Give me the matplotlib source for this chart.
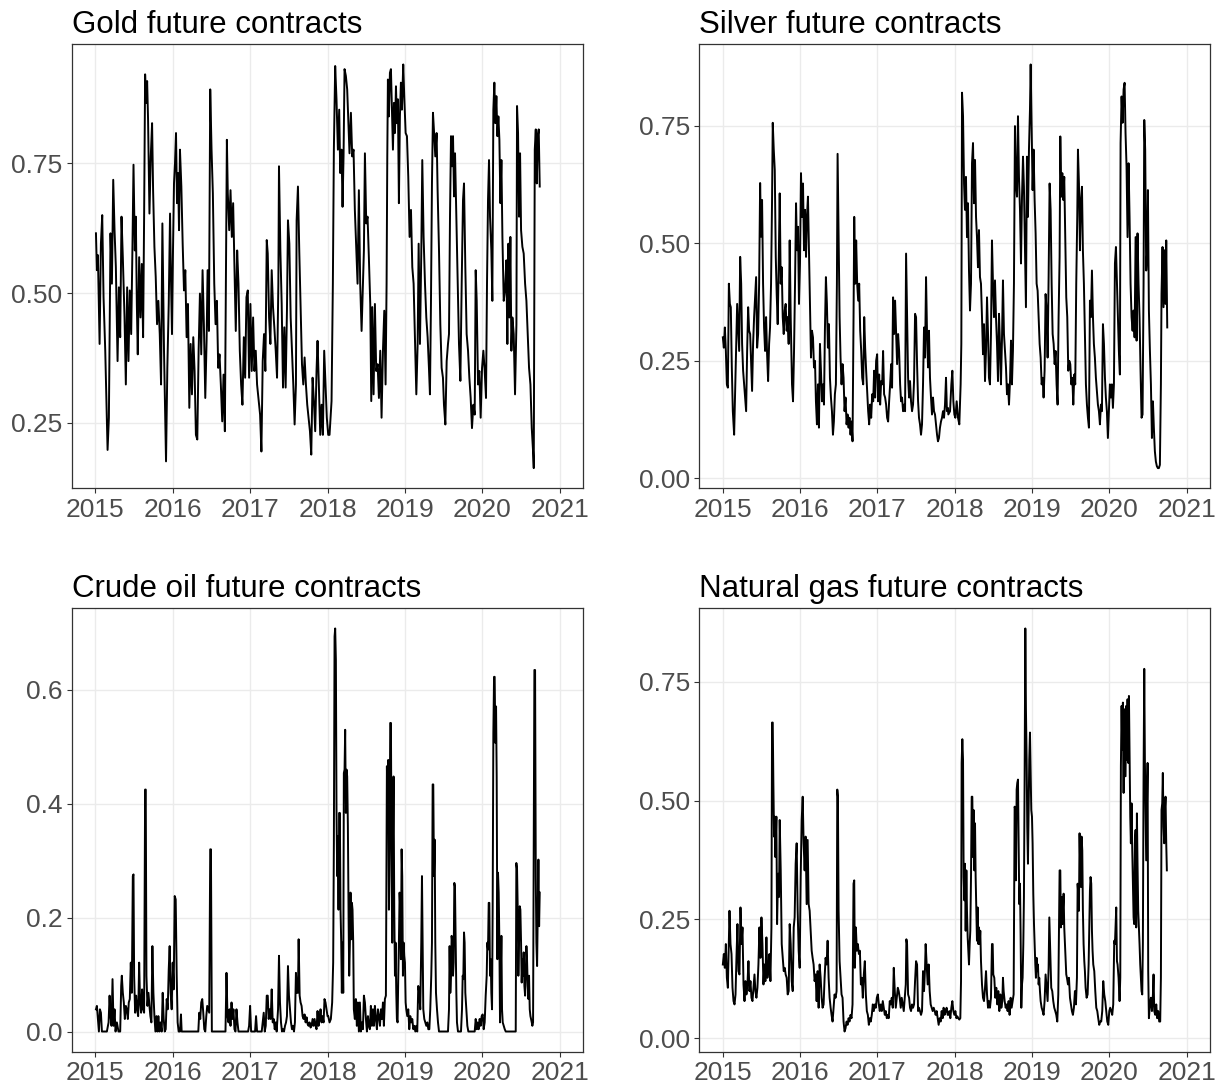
import matplotlib
matplotlib.use("Agg")
import matplotlib.pyplot as plt
from matplotlib.ticker import FormatStrFormatter

plt.rcParams['font.family'] = ['Liberation Sans', 'DejaVu Sans']

# (decimal year, value) observations for each contract
gold = [
    (2015.009, 0.615), (2015.021, 0.544), (2015.034, 0.573), (2015.056, 0.402), (2015.073, 0.595), (2015.090, 0.650), (2015.107, 0.492), (2015.129, 0.389), (2015.159, 0.198), (2015.176, 0.260),
    (2015.189, 0.492), (2015.197, 0.615), (2015.215, 0.518), (2015.232, 0.718), (2015.249, 0.621), (2015.266, 0.550), (2015.288, 0.369), (2015.305, 0.511), (2015.322, 0.415), (2015.339, 0.647),
    (2015.356, 0.569), (2015.378, 0.453), (2015.395, 0.324), (2015.412, 0.511), (2015.429, 0.369), (2015.446, 0.505), (2015.464, 0.421), (2015.481, 0.595), (2015.494, 0.747), (2015.511, 0.582),
    (2015.524, 0.647), (2015.537, 0.479), (2015.549, 0.382), (2015.567, 0.569), (2015.584, 0.453), (2015.601, 0.556), (2015.618, 0.415), (2015.631, 0.647), (2015.644, 0.921), (2015.657, 0.866),
    (2015.670, 0.908), (2015.682, 0.834), (2015.700, 0.653), (2015.717, 0.763), (2015.734, 0.827), (2015.747, 0.698), (2015.764, 0.589), (2015.781, 0.531), (2015.798, 0.440), (2015.815, 0.485),
    (2015.833, 0.421), (2015.850, 0.324), (2015.867, 0.634), (2015.888, 0.389), (2015.914, 0.176), (2015.931, 0.356), (2015.949, 0.479), (2015.966, 0.653), (2015.979, 0.518), (2015.991, 0.421),
    (2016.004, 0.582), (2016.017, 0.711), (2016.030, 0.750), (2016.043, 0.808), (2016.056, 0.673), (2016.069, 0.731), (2016.082, 0.621), (2016.094, 0.776), (2016.112, 0.705), (2016.129, 0.595),
    (2016.146, 0.505), (2016.163, 0.544), (2016.180, 0.415), (2016.197, 0.479), (2016.215, 0.279), (2016.232, 0.402), (2016.249, 0.305), (2016.266, 0.415), (2016.283, 0.350), (2016.300, 0.227),
    (2016.318, 0.218), (2016.335, 0.389), (2016.352, 0.499), (2016.369, 0.382), (2016.386, 0.544), (2016.403, 0.440), (2016.421, 0.298), (2016.438, 0.408), (2016.451, 0.544), (2016.468, 0.427),
    (2016.485, 0.892), (2016.502, 0.776), (2016.519, 0.692), (2016.537, 0.518), (2016.554, 0.440), (2016.571, 0.485), (2016.588, 0.356), (2016.605, 0.382), (2016.622, 0.324), (2016.640, 0.253),
    (2016.657, 0.343), (2016.674, 0.234), (2016.691, 0.595), (2016.700, 0.795), (2016.712, 0.692), (2016.730, 0.621), (2016.747, 0.698), (2016.764, 0.608), (2016.781, 0.673), (2016.798, 0.550),
    (2016.815, 0.427), (2016.833, 0.582), (2016.850, 0.518), (2016.867, 0.389), (2016.884, 0.324), (2016.901, 0.285), (2016.919, 0.415), (2016.936, 0.337), (2016.953, 0.492), (2016.970, 0.505),
    (2016.987, 0.337), (2017.004, 0.479), (2017.021, 0.350), (2017.039, 0.453), (2017.056, 0.350), (2017.073, 0.389), (2017.090, 0.324), (2017.112, 0.292), (2017.129, 0.266), (2017.146, 0.195),
    (2017.163, 0.369), (2017.180, 0.421), (2017.197, 0.350), (2017.215, 0.602), (2017.228, 0.576), (2017.245, 0.453), (2017.262, 0.402), (2017.279, 0.544), (2017.296, 0.473), (2017.313, 0.434),
    (2017.331, 0.389), (2017.348, 0.337), (2017.365, 0.518), (2017.373, 0.744), (2017.391, 0.582), (2017.408, 0.479), (2017.425, 0.318), (2017.442, 0.434), (2017.459, 0.318), (2017.476, 0.466),
    (2017.489, 0.640), (2017.507, 0.595), (2017.524, 0.453), (2017.541, 0.389), (2017.558, 0.324), (2017.575, 0.247), (2017.592, 0.324), (2017.601, 0.640), (2017.618, 0.705), (2017.635, 0.582),
    (2017.652, 0.479), (2017.670, 0.363), (2017.687, 0.324), (2017.704, 0.376), (2017.721, 0.324), (2017.738, 0.285), (2017.755, 0.260), (2017.773, 0.234), (2017.790, 0.189), (2017.807, 0.337),
    (2017.824, 0.292), (2017.841, 0.234), (2017.858, 0.350), (2017.871, 0.408), (2017.888, 0.324), (2017.906, 0.227), (2017.923, 0.285), (2017.940, 0.227), (2017.957, 0.389), (2017.974, 0.324),
    (2017.991, 0.260), (2018.009, 0.227), (2018.026, 0.227), (2018.052, 0.292), (2018.069, 0.518), (2018.082, 0.776), (2018.099, 0.937), (2018.116, 0.873), (2018.134, 0.776), (2018.151, 0.853),
    (2018.164, 0.731), (2018.181, 0.776), (2018.194, 0.666), (2018.207, 0.763), (2018.220, 0.931), (2018.237, 0.918), (2018.254, 0.892), (2018.267, 0.840), (2018.284, 0.769), (2018.302, 0.847),
    (2018.319, 0.763), (2018.336, 0.776), (2018.353, 0.660), (2018.371, 0.589), (2018.388, 0.518), (2018.405, 0.698), (2018.422, 0.518), (2018.440, 0.427), (2018.457, 0.518), (2018.470, 0.582),
    (2018.483, 0.769), (2018.500, 0.634), (2018.517, 0.647), (2018.534, 0.569), (2018.552, 0.479), (2018.565, 0.292), (2018.578, 0.473), (2018.595, 0.305), (2018.612, 0.479), (2018.629, 0.350),
    (2018.647, 0.363), (2018.664, 0.298), (2018.681, 0.389), (2018.698, 0.260), (2018.716, 0.389), (2018.733, 0.466), (2018.750, 0.324), (2018.763, 0.518), (2018.772, 0.763), (2018.780, 0.911),
    (2018.793, 0.840), (2018.806, 0.924), (2018.819, 0.931), (2018.832, 0.853), (2018.845, 0.776), (2018.858, 0.866), (2018.871, 0.808), (2018.884, 0.898), (2018.897, 0.827), (2018.909, 0.873),
    (2018.922, 0.673), (2018.935, 0.840), (2018.948, 0.905), (2018.961, 0.853), (2018.978, 0.940), (2018.991, 0.879), (2019.009, 0.808), (2019.026, 0.802), (2019.043, 0.724), (2019.060, 0.608),
    (2019.078, 0.660), (2019.095, 0.550), (2019.112, 0.518), (2019.129, 0.415), (2019.147, 0.305), (2019.164, 0.402), (2019.177, 0.595), (2019.194, 0.402), (2019.211, 0.576), (2019.224, 0.756),
    (2019.241, 0.608), (2019.259, 0.518), (2019.276, 0.453), (2019.293, 0.415), (2019.310, 0.356), (2019.323, 0.305), (2019.336, 0.479), (2019.349, 0.711), (2019.362, 0.847), (2019.379, 0.802),
    (2019.392, 0.763), (2019.409, 0.808), (2019.422, 0.698), (2019.440, 0.582), (2019.457, 0.440), (2019.474, 0.356), (2019.491, 0.337), (2019.504, 0.285), (2019.522, 0.247), (2019.539, 0.369),
    (2019.556, 0.402), (2019.569, 0.421), (2019.582, 0.647), (2019.595, 0.802), (2019.608, 0.744), (2019.621, 0.802), (2019.634, 0.686), (2019.647, 0.769), (2019.664, 0.647), (2019.681, 0.518),
    (2019.698, 0.402), (2019.716, 0.331), (2019.733, 0.518), (2019.750, 0.679), (2019.763, 0.711), (2019.780, 0.550), (2019.797, 0.421), (2019.815, 0.389), (2019.832, 0.337), (2019.849, 0.298),
    (2019.866, 0.240), (2019.884, 0.285), (2019.901, 0.266), (2019.914, 0.544), (2019.927, 0.485), (2019.944, 0.324), (2019.961, 0.350), (2019.978, 0.260), (2019.996, 0.356), (2020.013, 0.389),
    (2020.030, 0.350), (2020.047, 0.298), (2020.060, 0.518), (2020.073, 0.679), (2020.086, 0.756), (2020.099, 0.647), (2020.116, 0.582), (2020.129, 0.485), (2020.142, 0.853), (2020.155, 0.905),
    (2020.168, 0.827), (2020.181, 0.879), (2020.194, 0.802), (2020.207, 0.840), (2020.220, 0.795), (2020.233, 0.673), (2020.246, 0.756), (2020.259, 0.608), (2020.276, 0.485), (2020.293, 0.505),
    (2020.310, 0.563), (2020.323, 0.402), (2020.336, 0.595), (2020.349, 0.453), (2020.362, 0.608), (2020.375, 0.389), (2020.388, 0.453), (2020.405, 0.421), (2020.422, 0.305), (2020.440, 0.440),
    (2020.448, 0.860), (2020.461, 0.808), (2020.474, 0.647), (2020.487, 0.769), (2020.500, 0.621), (2020.517, 0.589), (2020.534, 0.576), (2020.552, 0.518), (2020.569, 0.485), (2020.586, 0.421),
    (2020.603, 0.356), (2020.621, 0.324), (2020.638, 0.240), (2020.655, 0.195), (2020.664, 0.163), (2020.677, 0.776), (2020.690, 0.815), (2020.703, 0.711), (2020.716, 0.802), (2020.728, 0.815),
    (2020.741, 0.705),
]

silver = [
    (2015.004, 0.300), (2015.017, 0.278), (2015.030, 0.321), (2015.043, 0.271), (2015.056, 0.200), (2015.069, 0.193), (2015.082, 0.414), (2015.095, 0.371), (2015.107, 0.364), (2015.120, 0.236),
    (2015.133, 0.143), (2015.150, 0.093), (2015.163, 0.186), (2015.176, 0.271), (2015.189, 0.371), (2015.202, 0.321), (2015.215, 0.271), (2015.228, 0.471), (2015.241, 0.414), (2015.253, 0.286),
    (2015.266, 0.229), (2015.279, 0.200), (2015.292, 0.172), (2015.305, 0.143), (2015.318, 0.271), (2015.331, 0.364), (2015.344, 0.314), (2015.357, 0.307), (2015.370, 0.243), (2015.382, 0.186),
    (2015.395, 0.286), (2015.408, 0.343), (2015.421, 0.385), (2015.434, 0.428), (2015.447, 0.278), (2015.460, 0.307), (2015.473, 0.414), (2015.486, 0.628), (2015.498, 0.514), (2015.511, 0.592),
    (2015.524, 0.414), (2015.537, 0.321), (2015.550, 0.271), (2015.563, 0.343), (2015.576, 0.264), (2015.589, 0.207), (2015.602, 0.286), (2015.614, 0.321), (2015.627, 0.414), (2015.640, 0.592),
    (2015.649, 0.756), (2015.662, 0.699), (2015.675, 0.656), (2015.688, 0.471), (2015.700, 0.392), (2015.713, 0.328), (2015.726, 0.457), (2015.739, 0.606), (2015.752, 0.414), (2015.765, 0.449),
    (2015.778, 0.343), (2015.791, 0.307), (2015.804, 0.357), (2015.816, 0.371), (2015.829, 0.314), (2015.842, 0.343), (2015.855, 0.286), (2015.868, 0.506), (2015.881, 0.343), (2015.898, 0.200),
    (2015.911, 0.164), (2015.924, 0.271), (2015.937, 0.414), (2015.950, 0.585), (2015.963, 0.485), (2015.975, 0.535), (2015.988, 0.371), (2016.001, 0.457), (2016.014, 0.649), (2016.027, 0.556),
    (2016.040, 0.627), (2016.053, 0.485), (2016.066, 0.571), (2016.079, 0.471), (2016.091, 0.556), (2016.104, 0.599), (2016.117, 0.485), (2016.130, 0.371), (2016.143, 0.257), (2016.156, 0.314),
    (2016.169, 0.300), (2016.182, 0.236), (2016.195, 0.250), (2016.207, 0.164), (2016.220, 0.115), (2016.233, 0.200), (2016.246, 0.108), (2016.259, 0.286), (2016.272, 0.229), (2016.285, 0.164),
    (2016.298, 0.200), (2016.311, 0.157), (2016.323, 0.314), (2016.336, 0.428), (2016.349, 0.371), (2016.362, 0.278), (2016.375, 0.328), (2016.388, 0.214), (2016.401, 0.172), (2016.414, 0.143),
    (2016.427, 0.093), (2016.439, 0.121), (2016.452, 0.179), (2016.465, 0.200), (2016.478, 0.414), (2016.487, 0.690), (2016.500, 0.514), (2016.513, 0.343), (2016.525, 0.257), (2016.538, 0.200),
    (2016.551, 0.243), (2016.564, 0.214), (2016.577, 0.143), (2016.590, 0.172), (2016.603, 0.115), (2016.616, 0.136), (2016.629, 0.108), (2016.641, 0.129), (2016.654, 0.093), (2016.667, 0.121),
    (2016.680, 0.079), (2016.693, 0.343), (2016.702, 0.556), (2016.715, 0.414), (2016.727, 0.506), (2016.740, 0.414), (2016.753, 0.378), (2016.766, 0.414), (2016.779, 0.314), (2016.792, 0.271),
    (2016.805, 0.214), (2016.818, 0.200), (2016.831, 0.343), (2016.843, 0.278), (2016.856, 0.229), (2016.869, 0.186), (2016.882, 0.143), (2016.895, 0.115), (2016.908, 0.157), (2016.921, 0.129),
    (2016.934, 0.179), (2016.947, 0.164), (2016.959, 0.229), (2016.972, 0.172), (2016.985, 0.250), (2016.998, 0.264), (2017.011, 0.164), (2017.024, 0.221), (2017.037, 0.157), (2017.050, 0.207),
    (2017.063, 0.200), (2017.075, 0.271), (2017.088, 0.179), (2017.101, 0.172), (2017.114, 0.157), (2017.127, 0.129), (2017.140, 0.121), (2017.153, 0.164), (2017.166, 0.200), (2017.179, 0.243),
    (2017.191, 0.193), (2017.204, 0.385), (2017.217, 0.307), (2017.230, 0.378), (2017.243, 0.314), (2017.256, 0.243), (2017.269, 0.307), (2017.282, 0.271), (2017.295, 0.200), (2017.307, 0.164),
    (2017.320, 0.172), (2017.333, 0.143), (2017.346, 0.157), (2017.359, 0.143), (2017.372, 0.478), (2017.385, 0.343), (2017.398, 0.214), (2017.411, 0.172), (2017.423, 0.207), (2017.436, 0.164),
    (2017.449, 0.143), (2017.462, 0.157), (2017.475, 0.207), (2017.488, 0.350), (2017.501, 0.343), (2017.514, 0.243), (2017.527, 0.164), (2017.539, 0.129), (2017.552, 0.115), (2017.565, 0.093),
    (2017.578, 0.115), (2017.591, 0.200), (2017.604, 0.321), (2017.617, 0.257), (2017.630, 0.428), (2017.643, 0.307), (2017.656, 0.236), (2017.668, 0.314), (2017.681, 0.214), (2017.694, 0.172),
    (2017.707, 0.136), (2017.720, 0.172), (2017.733, 0.143), (2017.746, 0.136), (2017.759, 0.115), (2017.772, 0.093), (2017.784, 0.079), (2017.797, 0.086), (2017.810, 0.108), (2017.823, 0.121),
    (2017.836, 0.129), (2017.849, 0.143), (2017.862, 0.129), (2017.875, 0.157), (2017.888, 0.214), (2017.900, 0.143), (2017.913, 0.150), (2017.918, 0.136), (2017.940, 0.143), (2017.957, 0.200),
    (2017.970, 0.229), (2017.983, 0.164), (2017.996, 0.136), (2018.009, 0.129), (2018.026, 0.164), (2018.043, 0.129), (2018.060, 0.115), (2018.077, 0.200), (2018.086, 0.286), (2018.095, 0.820),
    (2018.108, 0.770), (2018.121, 0.627), (2018.133, 0.571), (2018.146, 0.641), (2018.159, 0.513), (2018.172, 0.585), (2018.185, 0.442), (2018.198, 0.357), (2018.211, 0.414), (2018.224, 0.670),
    (2018.237, 0.713), (2018.250, 0.585), (2018.263, 0.677), (2018.276, 0.556), (2018.288, 0.513), (2018.301, 0.449), (2018.314, 0.528), (2018.327, 0.428), (2018.340, 0.414), (2018.353, 0.343),
    (2018.366, 0.264), (2018.379, 0.328), (2018.392, 0.207), (2018.405, 0.271), (2018.418, 0.385), (2018.431, 0.307), (2018.443, 0.214), (2018.456, 0.200), (2018.469, 0.307), (2018.482, 0.506),
    (2018.495, 0.414), (2018.508, 0.343), (2018.521, 0.421), (2018.534, 0.343), (2018.547, 0.286), (2018.560, 0.207), (2018.573, 0.350), (2018.585, 0.286), (2018.598, 0.200), (2018.611, 0.293),
    (2018.624, 0.421), (2018.637, 0.307), (2018.650, 0.271), (2018.663, 0.236), (2018.676, 0.179), (2018.689, 0.200), (2018.702, 0.157), (2018.715, 0.207), (2018.728, 0.293), (2018.740, 0.200),
    (2018.753, 0.271), (2018.766, 0.414), (2018.779, 0.749), (2018.792, 0.627), (2018.805, 0.599), (2018.818, 0.770), (2018.831, 0.641), (2018.844, 0.571), (2018.857, 0.457), (2018.870, 0.599),
    (2018.883, 0.684), (2018.895, 0.620), (2018.908, 0.485), (2018.921, 0.364), (2018.934, 0.684), (2018.947, 0.556), (2018.960, 0.699), (2018.973, 0.784), (2018.982, 0.880), (2018.994, 0.749),
    (2019.007, 0.613), (2019.020, 0.699), (2019.033, 0.592), (2019.046, 0.521), (2019.059, 0.414), (2019.072, 0.399), (2019.085, 0.343), (2019.098, 0.286), (2019.111, 0.257), (2019.124, 0.200),
    (2019.137, 0.214), (2019.149, 0.172), (2019.162, 0.229), (2019.175, 0.392), (2019.188, 0.357), (2019.201, 0.257), (2019.214, 0.428), (2019.227, 0.627), (2019.240, 0.571), (2019.253, 0.414),
    (2019.266, 0.307), (2019.279, 0.286), (2019.292, 0.243), (2019.304, 0.271), (2019.317, 0.200), (2019.330, 0.157), (2019.343, 0.343), (2019.356, 0.471), (2019.365, 0.727), (2019.378, 0.599),
    (2019.391, 0.649), (2019.403, 0.592), (2019.416, 0.641), (2019.429, 0.514), (2019.442, 0.385), (2019.455, 0.343), (2019.468, 0.229), (2019.481, 0.250), (2019.494, 0.243), (2019.507, 0.200),
    (2019.520, 0.214), (2019.533, 0.157), (2019.546, 0.221), (2019.558, 0.200), (2019.571, 0.414), (2019.584, 0.556), (2019.593, 0.699), (2019.606, 0.627), (2019.619, 0.485), (2019.632, 0.592),
    (2019.645, 0.620), (2019.657, 0.485), (2019.670, 0.414), (2019.683, 0.307), (2019.696, 0.200), (2019.709, 0.157), (2019.722, 0.129), (2019.735, 0.108), (2019.748, 0.378), (2019.761, 0.343),
    (2019.774, 0.442), (2019.787, 0.343), (2019.799, 0.286), (2019.812, 0.257), (2019.825, 0.214), (2019.838, 0.186), (2019.851, 0.157), (2019.864, 0.143), (2019.877, 0.115), (2019.890, 0.157),
    (2019.903, 0.143), (2019.916, 0.328), (2019.929, 0.286), (2019.942, 0.214), (2019.954, 0.172), (2019.967, 0.143), (2019.980, 0.086), (2019.993, 0.143), (2020.006, 0.200), (2020.019, 0.172),
    (2020.032, 0.200), (2020.045, 0.150), (2020.058, 0.200), (2020.071, 0.457), (2020.084, 0.492), (2020.097, 0.414), (2020.109, 0.343), (2020.122, 0.271), (2020.135, 0.221), (2020.144, 0.713),
    (2020.157, 0.812), (2020.170, 0.756), (2020.183, 0.827), (2020.196, 0.841), (2020.208, 0.734), (2020.221, 0.663), (2020.234, 0.513), (2020.247, 0.670), (2020.260, 0.556), (2020.273, 0.414),
    (2020.286, 0.343), (2020.299, 0.314), (2020.312, 0.357), (2020.325, 0.300), (2020.338, 0.513), (2020.351, 0.293), (2020.363, 0.521), (2020.376, 0.414), (2020.389, 0.343), (2020.402, 0.229),
    (2020.415, 0.129), (2020.428, 0.136), (2020.441, 0.414), (2020.450, 0.762), (2020.462, 0.699), (2020.475, 0.442), (2020.488, 0.485), (2020.497, 0.613), (2020.510, 0.357), (2020.523, 0.271),
    (2020.536, 0.200), (2020.549, 0.086), (2020.562, 0.164), (2020.574, 0.108), (2020.587, 0.058), (2020.600, 0.036), (2020.613, 0.026), (2020.626, 0.022), (2020.639, 0.022), (2020.652, 0.029),
    (2020.665, 0.200), (2020.673, 0.392), (2020.686, 0.492), (2020.699, 0.364), (2020.712, 0.485), (2020.725, 0.371), (2020.734, 0.506), (2020.747, 0.321),
]

crude = [
    (2015.009, 0.039), (2015.021, 0.045), (2015.034, 0.022), (2015.047, 0.000), (2015.060, 0.039), (2015.073, 0.033), (2015.086, 0.000), (2015.107, 0.000), (2015.129, 0.000), (2015.150, 0.000),
    (2015.172, 0.016), (2015.185, 0.063), (2015.197, 0.027), (2015.210, 0.010), (2015.223, 0.092), (2015.236, 0.010), (2015.249, 0.039), (2015.262, 0.000), (2015.279, 0.016), (2015.300, 0.000),
    (2015.322, 0.000), (2015.335, 0.080), (2015.343, 0.098), (2015.356, 0.068), (2015.369, 0.051), (2015.382, 0.022), (2015.395, 0.045), (2015.408, 0.039), (2015.421, 0.022), (2015.433, 0.051),
    (2015.446, 0.057), (2015.459, 0.121), (2015.472, 0.068), (2015.485, 0.273), (2015.494, 0.276), (2015.502, 0.098), (2015.515, 0.033), (2015.528, 0.063), (2015.541, 0.039), (2015.554, 0.027),
    (2015.567, 0.121), (2015.579, 0.051), (2015.592, 0.033), (2015.605, 0.074), (2015.618, 0.039), (2015.631, 0.033), (2015.644, 0.425), (2015.652, 0.425), (2015.661, 0.098), (2015.674, 0.045),
    (2015.687, 0.068), (2015.700, 0.045), (2015.712, 0.027), (2015.725, 0.016), (2015.738, 0.150), (2015.751, 0.068), (2015.764, 0.027), (2015.777, 0.000), (2015.790, 0.027), (2015.803, 0.000),
    (2015.815, 0.027), (2015.828, 0.000), (2015.841, 0.016), (2015.858, 0.000), (2015.871, 0.068), (2015.884, 0.022), (2015.897, 0.000), (2015.910, 0.004), (2015.923, 0.057), (2015.936, 0.039),
    (2015.949, 0.109), (2015.961, 0.150), (2015.974, 0.068), (2015.987, 0.039), (2016.000, 0.121), (2016.013, 0.074), (2016.026, 0.238), (2016.039, 0.232), (2016.052, 0.098), (2016.064, 0.016),
    (2016.077, 0.000), (2016.094, 0.000), (2016.107, 0.030), (2016.116, 0.000), (2016.180, 0.000), (2016.266, 0.000), (2016.331, 0.000), (2016.343, 0.033), (2016.356, 0.022), (2016.369, 0.051),
    (2016.382, 0.057), (2016.395, 0.033), (2016.408, 0.004), (2016.421, 0.000), (2016.434, 0.027), (2016.446, 0.045), (2016.459, 0.039), (2016.472, 0.033), (2016.485, 0.320), (2016.494, 0.320),
    (2016.506, 0.000), (2016.524, 0.000), (2016.610, 0.000), (2016.682, 0.000), (2016.695, 0.103), (2016.708, 0.027), (2016.721, 0.016), (2016.734, 0.039), (2016.747, 0.010), (2016.760, 0.051),
    (2016.773, 0.022), (2016.785, 0.039), (2016.798, 0.004), (2016.811, 0.000), (2016.824, 0.039), (2016.837, 0.016), (2016.850, 0.000), (2016.867, 0.000), (2016.910, 0.000), (2016.974, 0.000),
    (2016.987, 0.010), (2017.000, 0.045), (2017.013, 0.000), (2017.039, 0.000), (2017.064, 0.000), (2017.077, 0.027), (2017.090, 0.000), (2017.125, 0.000), (2017.150, 0.000), (2017.163, 0.016),
    (2017.176, 0.033), (2017.189, 0.000), (2017.202, 0.010), (2017.215, 0.063), (2017.228, 0.063), (2017.240, 0.022), (2017.253, 0.039), (2017.266, 0.022), (2017.279, 0.074), (2017.292, 0.016),
    (2017.305, 0.022), (2017.318, 0.004), (2017.331, 0.016), (2017.343, 0.000), (2017.361, 0.039), (2017.373, 0.133), (2017.386, 0.051), (2017.399, 0.016), (2017.412, 0.000), (2017.425, 0.004),
    (2017.438, 0.000), (2017.451, 0.010), (2017.464, 0.016), (2017.476, 0.027), (2017.489, 0.115), (2017.502, 0.063), (2017.515, 0.039), (2017.528, 0.016), (2017.541, 0.004), (2017.554, 0.010),
    (2017.567, 0.000), (2017.579, 0.016), (2017.592, 0.103), (2017.605, 0.068), (2017.618, 0.068), (2017.627, 0.162), (2017.640, 0.063), (2017.652, 0.051), (2017.665, 0.045), (2017.678, 0.027),
    (2017.691, 0.022), (2017.704, 0.030), (2017.717, 0.016), (2017.730, 0.025), (2017.743, 0.013), (2017.755, 0.010), (2017.768, 0.016), (2017.781, 0.007), (2017.794, 0.010), (2017.807, 0.022),
    (2017.820, 0.010), (2017.833, 0.022), (2017.846, 0.010), (2017.858, 0.004), (2017.871, 0.036), (2017.884, 0.010), (2017.897, 0.022), (2017.910, 0.039), (2017.923, 0.016), (2017.936, 0.027),
    (2017.949, 0.016), (2017.961, 0.057), (2017.974, 0.051), (2017.987, 0.039), (2018.000, 0.027), (2018.009, 0.027), (2018.026, 0.016), (2018.043, 0.022), (2018.060, 0.051), (2018.073, 0.121),
    (2018.082, 0.331), (2018.091, 0.694), (2018.099, 0.708), (2018.108, 0.653), (2018.116, 0.390), (2018.125, 0.273), (2018.134, 0.343), (2018.142, 0.214), (2018.151, 0.384), (2018.159, 0.384),
    (2018.168, 0.214), (2018.177, 0.156), (2018.185, 0.068), (2018.194, 0.156), (2018.203, 0.068), (2018.211, 0.454), (2018.220, 0.460), (2018.228, 0.530), (2018.237, 0.384), (2018.246, 0.460),
    (2018.254, 0.448), (2018.263, 0.361), (2018.272, 0.203), (2018.280, 0.098), (2018.289, 0.156), (2018.297, 0.244), (2018.306, 0.162), (2018.315, 0.226), (2018.323, 0.214), (2018.332, 0.156),
    (2018.340, 0.039), (2018.353, 0.022), (2018.366, 0.057), (2018.379, 0.010), (2018.392, 0.051), (2018.405, 0.000), (2018.418, 0.051), (2018.431, 0.000), (2018.444, 0.016), (2018.457, 0.004),
    (2018.470, 0.063), (2018.483, 0.051), (2018.496, 0.022), (2018.509, 0.000), (2018.522, 0.027), (2018.534, 0.010), (2018.547, 0.004), (2018.560, 0.045), (2018.573, 0.010), (2018.586, 0.039),
    (2018.599, 0.010), (2018.612, 0.045), (2018.625, 0.022), (2018.638, 0.004), (2018.651, 0.039), (2018.664, 0.027), (2018.677, 0.010), (2018.690, 0.039), (2018.703, 0.022), (2018.716, 0.051),
    (2018.728, 0.010), (2018.741, 0.057), (2018.754, 0.063), (2018.767, 0.466), (2018.776, 0.378), (2018.784, 0.477), (2018.793, 0.214), (2018.802, 0.331), (2018.810, 0.542), (2018.819, 0.542),
    (2018.828, 0.273), (2018.836, 0.156), (2018.845, 0.331), (2018.853, 0.448), (2018.862, 0.214), (2018.871, 0.098), (2018.879, 0.156), (2018.888, 0.068), (2018.896, 0.022), (2018.905, 0.016),
    (2018.914, 0.098), (2018.922, 0.156), (2018.931, 0.244), (2018.940, 0.214), (2018.948, 0.127), (2018.957, 0.320), (2018.965, 0.273), (2018.974, 0.098), (2018.983, 0.156), (2018.991, 0.133),
    (2019.000, 0.121), (2019.009, 0.051), (2019.017, 0.039), (2019.030, 0.027), (2019.043, 0.039), (2019.056, 0.004), (2019.069, 0.027), (2019.082, 0.016), (2019.095, 0.022), (2019.108, 0.004),
    (2019.121, 0.010), (2019.134, 0.000), (2019.147, 0.010), (2019.159, 0.000), (2019.172, 0.080), (2019.185, 0.068), (2019.198, 0.039), (2019.211, 0.156), (2019.220, 0.273), (2019.228, 0.156),
    (2019.237, 0.039), (2019.250, 0.022), (2019.263, 0.016), (2019.276, 0.010), (2019.289, 0.016), (2019.302, 0.004), (2019.315, 0.004), (2019.327, 0.039), (2019.340, 0.098), (2019.349, 0.156),
    (2019.358, 0.434), (2019.366, 0.434), (2019.375, 0.273), (2019.384, 0.337), (2019.392, 0.156), (2019.401, 0.068), (2019.414, 0.039), (2019.427, 0.016), (2019.440, 0.000), (2019.457, 0.000),
    (2019.491, 0.000), (2019.534, 0.000), (2019.556, 0.000), (2019.569, 0.039), (2019.577, 0.150), (2019.586, 0.068), (2019.595, 0.098), (2019.603, 0.168), (2019.612, 0.156), (2019.621, 0.098),
    (2019.629, 0.121), (2019.638, 0.261), (2019.646, 0.255), (2019.655, 0.156), (2019.664, 0.068), (2019.672, 0.016), (2019.685, 0.000), (2019.698, 0.000), (2019.711, 0.000), (2019.724, 0.000),
    (2019.737, 0.039), (2019.746, 0.098), (2019.754, 0.092), (2019.763, 0.174), (2019.771, 0.156), (2019.780, 0.068), (2019.793, 0.039), (2019.806, 0.010), (2019.819, 0.000), (2019.836, 0.000),
    (2019.858, 0.000), (2019.879, 0.000), (2019.901, 0.000), (2019.914, 0.022), (2019.927, 0.004), (2019.940, 0.016), (2019.952, 0.004), (2019.965, 0.022), (2019.978, 0.010), (2019.991, 0.027),
    (2020.004, 0.030), (2020.017, 0.004), (2020.030, 0.016), (2020.043, 0.063), (2020.056, 0.098), (2020.064, 0.156), (2020.073, 0.144), (2020.082, 0.226), (2020.090, 0.226), (2020.099, 0.098),
    (2020.108, 0.127), (2020.116, 0.068), (2020.125, 0.039), (2020.133, 0.214), (2020.142, 0.524), (2020.151, 0.623), (2020.159, 0.623), (2020.168, 0.507), (2020.177, 0.571), (2020.185, 0.448),
    (2020.194, 0.127), (2020.202, 0.279), (2020.211, 0.244), (2020.220, 0.156), (2020.228, 0.016), (2020.237, 0.098), (2020.246, 0.168), (2020.254, 0.039), (2020.263, 0.016), (2020.276, 0.010),
    (2020.289, 0.004), (2020.302, 0.000), (2020.332, 0.000), (2020.375, 0.000), (2020.418, 0.000), (2020.431, 0.000), (2020.439, 0.296), (2020.448, 0.285), (2020.457, 0.214), (2020.465, 0.098),
    (2020.474, 0.156), (2020.483, 0.220), (2020.491, 0.214), (2020.500, 0.156), (2020.508, 0.086), (2020.517, 0.127), (2020.526, 0.098), (2020.534, 0.139), (2020.543, 0.080), (2020.552, 0.063),
    (2020.560, 0.098), (2020.569, 0.150), (2020.577, 0.127), (2020.586, 0.080), (2020.595, 0.057), (2020.603, 0.098), (2020.612, 0.039), (2020.621, 0.027), (2020.629, 0.022), (2020.638, 0.016),
    (2020.646, 0.010), (2020.655, 0.016), (2020.664, 0.331), (2020.672, 0.635), (2020.681, 0.635), (2020.690, 0.273), (2020.698, 0.156), (2020.707, 0.115), (2020.716, 0.214), (2020.724, 0.302),
    (2020.733, 0.185), (2020.741, 0.244),
]

natgas = [
    (2015.004, 0.155), (2015.017, 0.177), (2015.030, 0.148), (2015.043, 0.198), (2015.056, 0.127), (2015.069, 0.106), (2015.082, 0.205), (2015.090, 0.268), (2015.103, 0.198), (2015.116, 0.177),
    (2015.129, 0.106), (2015.142, 0.078), (2015.155, 0.071), (2015.168, 0.092), (2015.180, 0.169), (2015.193, 0.240), (2015.206, 0.141), (2015.219, 0.134), (2015.232, 0.275), (2015.245, 0.198),
    (2015.258, 0.233), (2015.271, 0.113), (2015.284, 0.078), (2015.296, 0.120), (2015.309, 0.092), (2015.322, 0.113), (2015.335, 0.162), (2015.348, 0.099), (2015.361, 0.120), (2015.374, 0.085),
    (2015.387, 0.078), (2015.400, 0.106), (2015.413, 0.134), (2015.425, 0.099), (2015.438, 0.085), (2015.451, 0.106), (2015.464, 0.155), (2015.477, 0.233), (2015.490, 0.169), (2015.503, 0.254),
    (2015.516, 0.198), (2015.529, 0.113), (2015.541, 0.155), (2015.554, 0.120), (2015.567, 0.212), (2015.580, 0.127), (2015.593, 0.148), (2015.606, 0.177), (2015.619, 0.120), (2015.632, 0.233),
    (2015.640, 0.664), (2015.649, 0.664), (2015.657, 0.537), (2015.666, 0.424), (2015.675, 0.466), (2015.683, 0.381), (2015.696, 0.466), (2015.705, 0.240), (2015.718, 0.346), (2015.730, 0.297),
    (2015.739, 0.459), (2015.752, 0.353), (2015.765, 0.198), (2015.778, 0.169), (2015.791, 0.141), (2015.804, 0.148), (2015.816, 0.134), (2015.829, 0.127), (2015.842, 0.092), (2015.855, 0.099),
    (2015.868, 0.240), (2015.881, 0.198), (2015.894, 0.120), (2015.907, 0.099), (2015.920, 0.233), (2015.932, 0.254), (2015.945, 0.367), (2015.958, 0.410), (2015.971, 0.268), (2015.984, 0.184),
    (2015.997, 0.148), (2016.010, 0.339), (2016.023, 0.459), (2016.036, 0.508), (2016.048, 0.410), (2016.061, 0.353), (2016.074, 0.424), (2016.087, 0.282), (2016.100, 0.417), (2016.113, 0.282),
    (2016.126, 0.268), (2016.139, 0.226), (2016.152, 0.184), (2016.164, 0.169), (2016.177, 0.155), (2016.190, 0.120), (2016.203, 0.134), (2016.216, 0.078), (2016.229, 0.141), (2016.242, 0.064),
    (2016.255, 0.155), (2016.268, 0.127), (2016.281, 0.085), (2016.293, 0.064), (2016.306, 0.071), (2016.319, 0.127), (2016.332, 0.169), (2016.345, 0.155), (2016.358, 0.205), (2016.371, 0.127),
    (2016.384, 0.085), (2016.397, 0.064), (2016.409, 0.049), (2016.422, 0.035), (2016.435, 0.064), (2016.448, 0.092), (2016.461, 0.085), (2016.474, 0.099), (2016.483, 0.523), (2016.491, 0.508),
    (2016.500, 0.268), (2016.513, 0.162), (2016.525, 0.127), (2016.538, 0.092), (2016.551, 0.085), (2016.564, 0.035), (2016.577, 0.014), (2016.590, 0.021), (2016.603, 0.035), (2016.616, 0.028),
    (2016.629, 0.042), (2016.641, 0.035), (2016.654, 0.049), (2016.667, 0.042), (2016.680, 0.071), (2016.693, 0.325), (2016.702, 0.332), (2016.710, 0.148), (2016.723, 0.233), (2016.736, 0.184),
    (2016.749, 0.198), (2016.762, 0.177), (2016.775, 0.184), (2016.788, 0.113), (2016.800, 0.127), (2016.813, 0.085), (2016.826, 0.134), (2016.839, 0.162), (2016.852, 0.092), (2016.865, 0.057),
    (2016.878, 0.049), (2016.891, 0.028), (2016.904, 0.042), (2016.916, 0.035), (2016.929, 0.049), (2016.942, 0.071), (2016.955, 0.057), (2016.968, 0.071), (2016.981, 0.064), (2016.994, 0.085),
    (2017.007, 0.092), (2017.020, 0.071), (2017.032, 0.057), (2017.045, 0.071), (2017.058, 0.057), (2017.071, 0.078), (2017.084, 0.064), (2017.097, 0.049), (2017.110, 0.057), (2017.123, 0.042),
    (2017.136, 0.049), (2017.148, 0.042), (2017.161, 0.078), (2017.174, 0.071), (2017.187, 0.085), (2017.200, 0.064), (2017.213, 0.148), (2017.226, 0.099), (2017.239, 0.064), (2017.252, 0.085),
    (2017.265, 0.106), (2017.277, 0.099), (2017.290, 0.085), (2017.303, 0.064), (2017.316, 0.085), (2017.329, 0.071), (2017.342, 0.057), (2017.355, 0.085), (2017.368, 0.113), (2017.376, 0.208),
    (2017.385, 0.198), (2017.398, 0.092), (2017.411, 0.085), (2017.423, 0.064), (2017.436, 0.057), (2017.449, 0.071), (2017.462, 0.064), (2017.475, 0.071), (2017.488, 0.120), (2017.501, 0.162),
    (2017.514, 0.155), (2017.527, 0.057), (2017.539, 0.064), (2017.552, 0.057), (2017.565, 0.049), (2017.578, 0.057), (2017.591, 0.141), (2017.604, 0.099), (2017.617, 0.148), (2017.625, 0.198),
    (2017.638, 0.155), (2017.651, 0.113), (2017.664, 0.155), (2017.677, 0.099), (2017.690, 0.071), (2017.703, 0.064), (2017.716, 0.057), (2017.729, 0.064), (2017.742, 0.057), (2017.754, 0.049),
    (2017.767, 0.057), (2017.780, 0.042), (2017.793, 0.028), (2017.806, 0.042), (2017.819, 0.035), (2017.832, 0.057), (2017.845, 0.042), (2017.857, 0.064), (2017.870, 0.049), (2017.883, 0.057),
    (2017.896, 0.064), (2017.909, 0.049), (2017.918, 0.049), (2017.931, 0.057), (2017.944, 0.042), (2017.957, 0.064), (2017.970, 0.078), (2017.983, 0.057), (2017.996, 0.049), (2018.009, 0.057),
    (2018.022, 0.042), (2018.034, 0.046), (2018.047, 0.042), (2018.060, 0.039), (2018.073, 0.042), (2018.082, 0.120), (2018.090, 0.579), (2018.099, 0.629), (2018.108, 0.586), (2018.116, 0.339),
    (2018.125, 0.290), (2018.133, 0.367), (2018.142, 0.226), (2018.151, 0.353), (2018.159, 0.268), (2018.168, 0.212), (2018.177, 0.184), (2018.185, 0.155), (2018.194, 0.198), (2018.202, 0.226),
    (2018.211, 0.339), (2018.220, 0.508), (2018.228, 0.508), (2018.237, 0.381), (2018.245, 0.480), (2018.254, 0.353), (2018.263, 0.452), (2018.271, 0.339), (2018.280, 0.268), (2018.288, 0.205),
    (2018.297, 0.275), (2018.306, 0.198), (2018.314, 0.233), (2018.323, 0.198), (2018.331, 0.226), (2018.340, 0.162), (2018.353, 0.113), (2018.366, 0.085), (2018.379, 0.078), (2018.392, 0.106),
    (2018.405, 0.141), (2018.418, 0.092), (2018.431, 0.064), (2018.443, 0.078), (2018.456, 0.064), (2018.469, 0.085), (2018.482, 0.198), (2018.491, 0.198), (2018.499, 0.134), (2018.512, 0.127),
    (2018.525, 0.085), (2018.538, 0.106), (2018.551, 0.071), (2018.564, 0.099), (2018.577, 0.057), (2018.590, 0.092), (2018.603, 0.064), (2018.616, 0.078), (2018.624, 0.127), (2018.633, 0.099),
    (2018.646, 0.078), (2018.659, 0.064), (2018.672, 0.071), (2018.684, 0.057), (2018.697, 0.078), (2018.710, 0.049), (2018.723, 0.085), (2018.736, 0.064), (2018.749, 0.078), (2018.762, 0.092),
    (2018.775, 0.487), (2018.784, 0.480), (2018.792, 0.332), (2018.801, 0.523), (2018.809, 0.537), (2018.818, 0.544), (2018.827, 0.410), (2018.835, 0.282), (2018.844, 0.325), (2018.852, 0.219),
    (2018.861, 0.064), (2018.870, 0.113), (2018.878, 0.127), (2018.887, 0.198), (2018.895, 0.297), (2018.904, 0.551), (2018.913, 0.862), (2018.921, 0.692), (2018.930, 0.586), (2018.938, 0.445),
    (2018.947, 0.367), (2018.956, 0.480), (2018.964, 0.586), (2018.973, 0.643), (2018.982, 0.551), (2018.990, 0.480), (2018.999, 0.466), (2019.007, 0.410), (2019.016, 0.304), (2019.025, 0.240),
    (2019.033, 0.198), (2019.042, 0.155), (2019.050, 0.127), (2019.059, 0.169), (2019.068, 0.141), (2019.076, 0.155), (2019.085, 0.113), (2019.093, 0.127), (2019.102, 0.099), (2019.111, 0.078),
    (2019.124, 0.064), (2019.137, 0.057), (2019.149, 0.049), (2019.162, 0.078), (2019.175, 0.134), (2019.188, 0.106), (2019.201, 0.078), (2019.214, 0.148), (2019.223, 0.254), (2019.231, 0.205),
    (2019.240, 0.155), (2019.248, 0.106), (2019.261, 0.099), (2019.274, 0.078), (2019.287, 0.064), (2019.300, 0.057), (2019.313, 0.049), (2019.326, 0.035), (2019.339, 0.092), (2019.347, 0.226),
    (2019.356, 0.353), (2019.365, 0.353), (2019.373, 0.233), (2019.382, 0.297), (2019.391, 0.240), (2019.399, 0.268), (2019.408, 0.304), (2019.416, 0.233), (2019.425, 0.198), (2019.434, 0.162),
    (2019.442, 0.134), (2019.451, 0.127), (2019.464, 0.113), (2019.477, 0.127), (2019.490, 0.085), (2019.502, 0.071), (2019.515, 0.057), (2019.528, 0.049), (2019.541, 0.064), (2019.554, 0.099),
    (2019.567, 0.071), (2019.580, 0.127), (2019.589, 0.325), (2019.597, 0.304), (2019.606, 0.268), (2019.614, 0.431), (2019.623, 0.353), (2019.632, 0.318), (2019.640, 0.424), (2019.649, 0.395),
    (2019.657, 0.268), (2019.666, 0.198), (2019.675, 0.162), (2019.683, 0.141), (2019.692, 0.106), (2019.705, 0.085), (2019.718, 0.092), (2019.731, 0.155), (2019.739, 0.226), (2019.748, 0.311),
    (2019.756, 0.339), (2019.765, 0.325), (2019.774, 0.226), (2019.782, 0.184), (2019.791, 0.155), (2019.804, 0.141), (2019.817, 0.099), (2019.830, 0.064), (2019.843, 0.057), (2019.855, 0.042),
    (2019.868, 0.028), (2019.881, 0.035), (2019.894, 0.035), (2019.907, 0.057), (2019.920, 0.120), (2019.933, 0.092), (2019.946, 0.078), (2019.959, 0.057), (2019.972, 0.035), (2019.985, 0.028),
    (2019.998, 0.057), (2020.010, 0.064), (2020.023, 0.057), (2020.036, 0.049), (2020.049, 0.071), (2020.062, 0.205), (2020.071, 0.198), (2020.079, 0.233), (2020.088, 0.275), (2020.097, 0.162),
    (2020.105, 0.155), (2020.118, 0.127), (2020.131, 0.078), (2020.140, 0.127), (2020.148, 0.572), (2020.157, 0.699), (2020.166, 0.607), (2020.174, 0.706), (2020.183, 0.516), (2020.191, 0.692),
    (2020.200, 0.621), (2020.208, 0.551), (2020.217, 0.699), (2020.226, 0.586), (2020.234, 0.713), (2020.243, 0.579), (2020.252, 0.720), (2020.260, 0.607), (2020.269, 0.466), (2020.277, 0.410),
    (2020.286, 0.494), (2020.295, 0.395), (2020.303, 0.325), (2020.312, 0.254), (2020.320, 0.240), (2020.329, 0.410), (2020.338, 0.438), (2020.346, 0.233), (2020.355, 0.473), (2020.363, 0.367),
    (2020.372, 0.268), (2020.381, 0.233), (2020.389, 0.198), (2020.398, 0.155), (2020.407, 0.127), (2020.415, 0.099), (2020.424, 0.092), (2020.432, 0.198), (2020.441, 0.551), (2020.450, 0.777),
    (2020.458, 0.586), (2020.467, 0.466), (2020.475, 0.374), (2020.484, 0.480), (2020.493, 0.579), (2020.501, 0.141), (2020.510, 0.042), (2020.523, 0.071), (2020.536, 0.085), (2020.549, 0.057),
    (2020.562, 0.092), (2020.570, 0.134), (2020.579, 0.057), (2020.592, 0.049), (2020.605, 0.071), (2020.617, 0.042), (2020.630, 0.057), (2020.643, 0.035), (2020.656, 0.035), (2020.665, 0.127),
    (2020.673, 0.480), (2020.682, 0.494), (2020.690, 0.558), (2020.699, 0.445), (2020.708, 0.410), (2020.716, 0.480), (2020.725, 0.508), (2020.734, 0.410), (2020.742, 0.353),
]

titles = ["Gold future contracts", "Silver future contracts",
          "Crude oil future contracts", "Natural gas future contracts"]
year_ticks = [2015, 2016, 2017, 2018, 2019, 2020, 2021]
y_ticks = [[0.25, 0.50, 0.75], [0.00, 0.25, 0.50, 0.75],
           [0.0, 0.2, 0.4, 0.6], [0.00, 0.25, 0.50, 0.75]]
y_formats = ["%.2f", "%.2f", "%.1f", "%.2f"]

fig = plt.figure(figsize=(12.23, 10.88), dpi=100)

# panel positions: [left, bottom, width, height]
boxes = [[0.0589, 0.5512, 0.4178, 0.4081],
         [0.5718, 0.5512, 0.4176, 0.4081],
         [0.0589, 0.0334, 0.4178, 0.4075],
         [0.5718, 0.0334, 0.4176, 0.4075]]

for series, title, yt, fmt, box in zip([gold, silver, crude, natgas], titles, y_ticks, y_formats, boxes):
    ax = fig.add_axes(box)
    t, v = zip(*series)
    ax.plot(t, v, color="black", lw=1.4)
    ax.set_xlim(2014.7, 2021.3)
    ax.margins(y=0.05)
    ax.set_xticks(year_ticks)
    ax.set_yticks(yt)
    ax.yaxis.set_major_formatter(FormatStrFormatter(fmt))
    ax.grid(True, color="#EBEBEB", lw=1.0)
    ax.set_axisbelow(True)
    for sp in ax.spines.values():
        sp.set_color("#333333")
        sp.set_linewidth(0.9)
    ax.tick_params(length=3.6, width=0.8, color="#333333", labelsize=19,
                   labelcolor="#4D4D4D", pad=3.2)
    ax.set_title(title, loc="left", fontsize=22.5, pad=8, color="black")

fig.savefig("out.png", dpi=100)
